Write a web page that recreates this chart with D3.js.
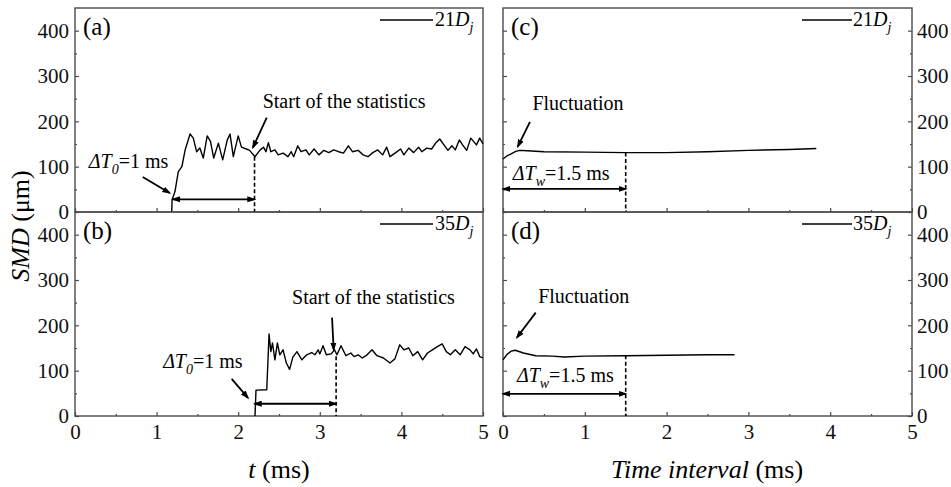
<!DOCTYPE html>
<html>
<head>
<meta charset="utf-8">
<script src="https://cdn.jsdelivr.net/npm/d3@7"></script>
<style>
	body { margin: 0; background: #fff; }
	svg { font-family: "Liberation Serif", "Times New Roman", serif; }
	svg text { font-family: "Liberation Serif", "Times New Roman", serif; }
</style>
</head>
<body>
<svg id="chart" width="951" height="487"></svg>
<script>
// SMD against time (ms), panels (a) 21Dj and (b) 35Dj
var tA = [1.185, 1.19, 1.225, 1.266, 1.31, 1.35, 1.41, 1.45, 1.49, 1.53, 1.572, 1.62, 1.66, 1.70, 1.757, 1.81, 1.866, 1.90, 1.94, 2.0,
	2.04, 2.10, 2.14, 2.206, 2.27, 2.31, 2.34, 2.37, 2.40, 2.45, 2.49, 2.55, 2.61, 2.65, 2.68, 2.73, 2.77, 2.83, 2.87, 2.93,
	2.99, 3.05, 3.11, 3.17, 3.23, 3.29, 3.35, 3.40, 3.47, 3.53, 3.59, 3.65, 3.71, 3.77, 3.82, 3.86, 3.93, 3.99, 4.03, 4.09,
	4.15, 4.21, 4.25, 4.31, 4.37, 4.42, 4.47, 4.53, 4.57, 4.62, 4.66, 4.71, 4.75, 4.80, 4.85, 4.92, 4.96, 5.0];
var smdA = [0, 27, 45, 89, 100, 137, 172, 163, 133, 141, 119, 168, 156, 119, 152, 115, 159, 172, 122, 168,
	143, 139, 136, 122, 137, 143, 133, 153, 133, 137, 126, 130, 122, 133, 122, 146, 133, 137, 126, 139,
	126, 136, 131, 137, 133, 130, 146, 133, 136, 126, 122, 131, 137, 126, 143, 122, 131, 139, 126, 141,
	131, 143, 133, 141, 139, 152, 161, 146, 136, 146, 137, 159, 148, 136, 163, 148, 163, 150];

var tB = [2.206, 2.218, 2.35, 2.378, 2.40, 2.42, 2.45, 2.48, 2.51, 2.55, 2.59, 2.63, 2.67, 2.72, 2.78, 2.84, 2.90, 2.94, 2.98, 3.00,
	3.04, 3.08, 3.14, 3.18, 3.21, 3.26, 3.32, 3.38, 3.42, 3.47, 3.52, 3.58, 3.64, 3.70, 3.78, 3.86, 3.92, 3.98, 4.03, 4.09,
	4.14, 4.20, 4.26, 4.32, 4.38, 4.44, 4.50, 4.55, 4.60, 4.66, 4.72, 4.78, 4.84, 4.88, 4.92, 4.96, 5.0];
var smdB = [0, 57, 58, 181, 142, 161, 124, 161, 135, 146, 117, 103, 130, 142, 124, 135, 140, 135, 146, 137,
	155, 135, 137, 146, 135, 155, 133, 139, 131, 135, 128, 135, 146, 133, 128, 117, 126, 157, 146, 150,
	133, 142, 124, 139, 146, 153, 159, 142, 135, 146, 135, 153, 146, 137, 148, 131, 128];

// SMD against time interval (ms), panels (c) 21Dj and (d) 35Dj
var tC = [0, 0.05, 0.1, 0.15, 0.2, 0.3, 0.5, 1.0, 1.5, 2.0, 2.5, 3.0, 3.5, 3.83];
var smdC = [117, 124, 128, 133, 136, 135, 133, 132, 131, 131, 133, 136, 138, 140];

var tD = [0, 0.05, 0.1, 0.15, 0.25, 0.4, 0.6, 0.75, 1.0, 1.5, 2.0, 2.5, 2.83];
var smdD = [124, 136, 143, 145, 139, 133, 132, 130, 132, 133, 134, 135, 135];

var xTicks = [0, 1, 2, 3, 4, 5];
var xMinor = [0.5, 1.5, 2.5, 3.5, 4.5];
var yTicks = [0, 100, 200, 300, 400];
var yMinor = [50, 150, 250, 350];

var svg = d3.select("#chart");
var frameColor = "#4a4a4a";
var serif = "Liberation Serif, Times New Roman, serif";

var xLeft = d3.scaleLinear().domain([0, 5]).range([75, 483]);
var xRight = d3.scaleLinear().domain([0, 5]).range([503, 912]);
var yTop = d3.scaleLinear().domain([0, 450]).range([212, 8]);
var yBottom = d3.scaleLinear().domain([0, 450]).range([416, 212]);

var defs = svg.append("defs");
defs.append("marker")
	.attr("id", "arrow")
	.attr("viewBox", "0 0 10 10")
	.attr("refX", 8)
	.attr("refY", 5)
	.attr("markerWidth", 9)
	.attr("markerHeight", 9)
	.attr("markerUnits", "userSpaceOnUse")
	.attr("orient", "auto-start-reverse")
	.append("path")
	.attr("d", "M0,1.6L10,5L0,8.4Z")
	.attr("fill", "#000");

var panels = [
	{ name: "(a)", x: xLeft, y: yTop, t: tA, v: smdA, legend: "21", legendDx: -48, lineDx: [-103, -50],
	  yLabels: "left", xLabels: false,
	  notes: [{ t: 2.30, v: 230, parts: [["Start of the statistics"]] },
	          { t: 0.17, v: 97, parts: [["\u0394T", 1], ["0", 1, 1], ["=1 ms"]] }],
	  arrows: [[2.35, 208, 2.18, 142], [0.83, 77, 1.16, 42]],
	  span: [1.2, 2.2, 28], dash: [2.2, 122] },
	{ name: "(b)", x: xLeft, y: yBottom, t: tB, v: smdB, legend: "35", legendDx: -48, lineDx: [-103, -50],
	  yLabels: "left", xLabels: true,
	  notes: [{ t: 2.66, v: 246, parts: [["Start of the statistics"]] },
	          { t: 1.08, v: 106, parts: [["\u0394T", 1], ["0", 1, 1], ["=1 ms"]] }],
	  arrows: [[3.15, 217, 3.17, 146], [1.92, 82, 2.12, 40]],
	  span: [2.2, 3.2, 27], dash: [3.2, 132] },
	{ name: "(c)", x: xRight, y: yTop, t: tC, v: smdC, legend: "21", legendDx: -59, lineDx: [-110, -60],
	  yLabels: "right", xLabels: false,
	  notes: [{ t: 0.36, v: 226, parts: [["Fluctuation"]] },
	          { t: 0.12, v: 71, parts: [["\u0394T", 1], ["w", 1, 1], ["=1.5 ms"]] }],
	  arrows: [[0.33, 199, 0.18, 144]],
	  span: [0, 1.5, 51], dash: [1.5, 131] },
	{ name: "(d)", x: xRight, y: yBottom, t: tD, v: smdD, legend: "35", legendDx: -59, lineDx: [-110, -60],
	  yLabels: "right", xLabels: true,
	  notes: [{ t: 0.43, v: 250, parts: [["Fluctuation"]] },
	          { t: 0.17, v: 76, parts: [["\u0394T", 1], ["w", 1, 1], ["=1.5 ms"]] }],
	  arrows: [[0.40, 228, 0.17, 173]],
	  span: [0, 1.5, 49], dash: [1.5, 134] }
];

// text made of pieces: [string, italic, subscript]
function addText(parent, x, y, parts, size)
{
	var text = parent.append("text")
	.attr("x", x)
	.attr("y", y)
	.attr("font-family", serif)
	.attr("font-size", size)
	.attr("fill", "#000");
	var shift = 0;
	parts.forEach(function(d)
	{
		var s = text.append("tspan")
		.text(d[0])
		.attr("font-style", d[1] ? "italic" : "normal");
		var want = d[2] ? size * 0.3 : 0;
		if (want != shift)
			s.attr("dy", want - shift);
		if (d[2])
			s.attr("font-size", size * 0.7);
		shift = want;
	});
	return text;
}

function styleAxis(g)
{
	g.select(".domain").remove();
	g.attr("font-family", serif).attr("font-size", 21);
	g.selectAll(".tick line").attr("stroke", frameColor).attr("stroke-width", 1.2);
	g.selectAll(".tick text")
	.attr("font-family", serif)
	.attr("font-size", 21)
	.attr("fill", "#111");
}

function drawPanel(p)
{
	var x = p.x, y = p.y;
	var x0 = x.range()[0], x1 = x.range()[1];
	var y0 = y.range()[0], y1 = y.range()[1];
	var g = svg.append("g");

	// bottom ticks, inward
	g.append("g")
	.attr("transform", "translate(0," + y0 + ")")
	.call(d3.axisBottom(x).tickValues(xTicks).tickSizeInner(-4).tickSizeOuter(0).tickPadding(8)
		.tickFormat(p.xLabels ? d3.format("d") : ""))
	.call(styleAxis);

	g.append("g")
	.attr("transform", "translate(0," + y0 + ")")
	.call(d3.axisBottom(x).tickValues(xMinor).tickSizeInner(-2).tickSizeOuter(0).tickFormat(""))
	.call(styleAxis);

	// left ticks
	g.append("g")
	.attr("transform", "translate(" + x0 + ",0)")
	.call(d3.axisLeft(y).tickValues(yTicks).tickSizeInner(-4).tickSizeOuter(0).tickPadding(6)
		.tickFormat(p.yLabels === "left" ? d3.format("d") : ""))
	.call(styleAxis);

	g.append("g")
	.attr("transform", "translate(" + x0 + ",0)")
	.call(d3.axisLeft(y).tickValues(yMinor).tickSizeInner(-2).tickSizeOuter(0).tickFormat(""))
	.call(styleAxis);

	if (p.yLabels === "right")
	{
		g.append("g")
		.attr("transform", "translate(" + x1 + ",0)")
		.call(d3.axisRight(y).tickValues(yTicks).tickSizeInner(-4).tickSizeOuter(0).tickPadding(5)
			.tickFormat(d3.format("d")))
		.call(styleAxis);

		g.append("g")
		.attr("transform", "translate(" + x1 + ",0)")
		.call(d3.axisRight(y).tickValues(yMinor).tickSizeInner(-2).tickSizeOuter(0).tickFormat(""))
		.call(styleAxis);
	}

	// frame
	g.append("rect")
	.attr("x", x0)
	.attr("y", y1)
	.attr("width", x1 - x0)
	.attr("height", y0 - y1)
	.attr("fill", "none")
	.attr("stroke", frameColor)
	.attr("stroke-width", 1.4);

	// SMD curve
	var line = d3.line()
	.x(function(d) { return x(d[0]); })
	.y(function(d) { return y(d[1]); });

	g.append("path")
	.datum(d3.zip(p.t, p.v))
	.attr("d", line)
	.attr("fill", "none")
	.attr("stroke", "#000")
	.attr("stroke-width", 1.4)
	.attr("stroke-linejoin", "round");

	// dashed marker down to zero
	g.append("line")
	.attr("x1", x(p.dash[0]))
	.attr("x2", x(p.dash[0]))
	.attr("y1", y(p.dash[1]))
	.attr("y2", y(0))
	.attr("stroke", "#000")
	.attr("stroke-width", 1.6)
	.attr("stroke-dasharray", "4,2.5");

	// double arrow for the window
	g.append("line")
	.attr("x1", x(p.span[0]))
	.attr("x2", x(p.span[1]))
	.attr("y1", y(p.span[2]))
	.attr("y2", y(p.span[2]))
	.attr("stroke", "#000")
	.attr("stroke-width", 1.8)
	.attr("marker-start", "url(#arrow)")
	.attr("marker-end", "url(#arrow)");

	p.arrows.forEach(function(a)
	{
		g.append("line")
		.attr("x1", x(a[0]))
		.attr("y1", y(a[1]))
		.attr("x2", x(a[2]))
		.attr("y2", y(a[3]))
		.attr("stroke", "#000")
		.attr("stroke-width", 1.8)
		.attr("marker-end", "url(#arrow)");
	});

	p.notes.forEach(function(n)
	{
		addText(g, x(n.t), y(n.v), n.parts, 20);
	});

	// panel tag and legend
	addText(g, x0 + 8, y1 + 27, [[p.name]], 25);

	g.append("line")
	.attr("x1", x1 + p.lineDx[0])
	.attr("x2", x1 + p.lineDx[1])
	.attr("y1", y1 + 12)
	.attr("y2", y1 + 12)
	.attr("stroke", "#000")
	.attr("stroke-width", 1.3);

	addText(g, x1 + p.legendDx, y1 + 18, [[p.legend], ["D", 1], ["j", 1, 1]], 20);
}

panels.forEach(drawPanel);

// axis titles
addText(svg, 0, 478, [["t", 1], [" (ms)"]], 26)
.attr("x", 279)
.attr("text-anchor", "middle");

addText(svg, 0, 478, [["Time interval", 1], [" (ms)"]], 26)
.attr("x", 707)
.attr("text-anchor", "middle");

addText(svg, 0, 0, [["SMD", 1], [" (\u03bcm)"]], 26)
.attr("text-anchor", "middle")
.attr("transform", "translate(29,226) rotate(-90)");
</script>
</body>
</html>
